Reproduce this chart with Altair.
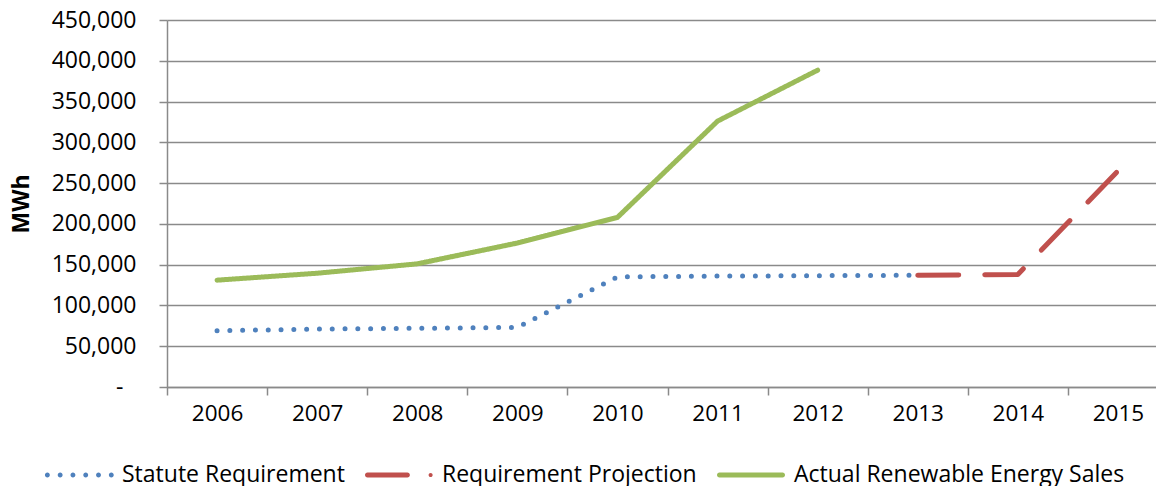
import altair as alt
import pandas as pd

# ---- data ----
years = ["2006", "2007", "2008", "2009", "2010", "2011", "2012", "2013", "2014", "2015"]

statute_years = ["2006", "2007", "2008", "2009", "2010", "2011", "2012", "2013"]
statute_values = [69000, 71000, 72000, 73000, 135000, 136000, 136500, 137000]

projection_years = ["2013", "2014", "2015"]
projection_values = [137000, 138000, 265000]

actual_years = ["2006", "2007", "2008", "2009", "2010", "2011", "2012"]
actual_values = [131000, 139500, 151000, 176500, 208000, 326000, 388500]

series_names = ["Statute Requirement", "Requirement Projection", "Actual Renewable Energy Sales"]
series_colors = ["#4F81BD", "#C0504D", "#9BBB59"]
series_dashes = [[0, 12.8], [41, 26], [1, 0]]
y_ticks = [0, 50000, 100000, 150000, 200000, 250000, 300000, 350000, 400000, 450000]

rows = []
for name, ys, vs in [
    (series_names[0], statute_years, statute_values),
    (series_names[1], projection_years, projection_values),
    (series_names[2], actual_years, actual_values),
]:
    for y, v in zip(ys, vs):
        rows.append({"series": name, "year": y, "value": v})
df = pd.DataFrame(rows)

FONT = "Open Sans"
GRID = "#8a8a8a"


# ---- legend symbol shapes (unit square paths, styling only) ----
def circle(cx, r):
    return f"M{cx - r:.4f},0 A{r},{r} 0 1,0 {cx + r:.4f},0 A{r},{r} 0 1,0 {cx - r:.4f},0 Z"


def bar(a, b, t):
    x1, x2 = a + t, b - t
    return (f"M{x1:.4f},{-t} L{x2:.4f},{-t} A{t},{t} 0 0,1 {x2:.4f},{t} "
            f"L{x1:.4f},{t} A{t},{t} 0 0,1 {x1:.4f},{-t} Z")


T = 0.072
dotted_shape = " ".join(circle(-0.93 + k * 0.376, T) for k in range(6))
dashed_shape = bar(-1.0, 0.32, T) + " " + circle(0.93, 0.06)
solid_shape = bar(-1.0, 1.0, T)
legend_shapes = [dotted_shape, dashed_shape, solid_shape]

x_enc = alt.X(
    "year:O",
    scale=alt.Scale(type="band", domain=years, paddingInner=0, paddingOuter=0),
    axis=alt.Axis(
        title=None,
        labelAngle=0,
        tickBand="extent",
        tickSize=8,
        tickColor=GRID,
        tickWidth=1.5,
        domainColor=GRID,
        domainWidth=1.5,
        labelFont=FONT,
        labelFontSize=22.5,
        labelColor="#000000",
        labelPadding=7,
        grid=False,
    ),
)

y_enc = alt.Y(
    "value:Q",
    scale=alt.Scale(domain=[0, 450000], nice=False, zero=True),
    axis=alt.Axis(
        values=y_ticks,
        labelExpr="datum.value === 0 ? '-' : format(datum.value, ',')",
        title="MWh",
        titleFont=FONT,
        titleFontSize=23,
        titleFontWeight="bold",
        titleColor="#000000",
        titleAngle=270,
        titleX=-146,
        titleY=183.5,
        titleAlign="center",
        titleBaseline="middle",
        labelFont=FONT,
        labelFontSize=23,
        labelColor="#000000",
        labelPadding={"condition": {"test": "datum.value === 0", "value": 36}, "value": 23},
        tickSize=8,
        tickColor=GRID,
        tickWidth=1.5,
        domainColor=GRID,
        domainWidth=1.5,
        gridColor=GRID,
        gridWidth=1.5,
    ),
)

lines = (
    alt.Chart(df)
    .mark_line(strokeCap="round", strokeJoin="round", strokeWidth=5)
    .encode(
        x=x_enc,
        y=y_enc,
        color=alt.Color(
            "series:N",
            scale=alt.Scale(domain=series_names, range=series_colors),
            legend=None,
        ),
        strokeDash=alt.StrokeDash(
            "series:N",
            scale=alt.Scale(domain=series_names, range=series_dashes),
            legend=None,
        ),
    )
)

legend = alt.Legend(
    title=None,
    orient="none",
    legendX=-122,
    legendY=421,
    direction="horizontal",
    symbolSize=4624,
    symbolStrokeWidth=0,
    symbolOpacity=1,
    labelFont=FONT,
    labelFontSize=23,
    labelColor="#000000",
    labelLimit=600,
    labelOffset=9,
    columnPadding=20,
    padding=0,
)

legend_layer = (
    alt.Chart(df)
    .mark_point(filled=True, size=1)
    .encode(
        x=x_enc,
        y=y_enc,
        fill=alt.Fill(
            "series:N",
            scale=alt.Scale(domain=series_names, range=series_colors),
            legend=legend,
        ),
        shape=alt.Shape(
            "series:N",
            scale=alt.Scale(domain=series_names, range=legend_shapes),
            legend=legend,
        ),
    )
)

chart = (
    alt.layer(legend_layer, lines)
    .properties(
        width=1001,
        height=367,
        autosize=alt.AutoSizeParams(type="none"),
        padding={"left": 159, "top": 12, "right": -12, "bottom": 99},
    )
    .configure_view(stroke=None)
)

chart.save("out.html", embed_options={"renderer": "svg", "actions": False})
